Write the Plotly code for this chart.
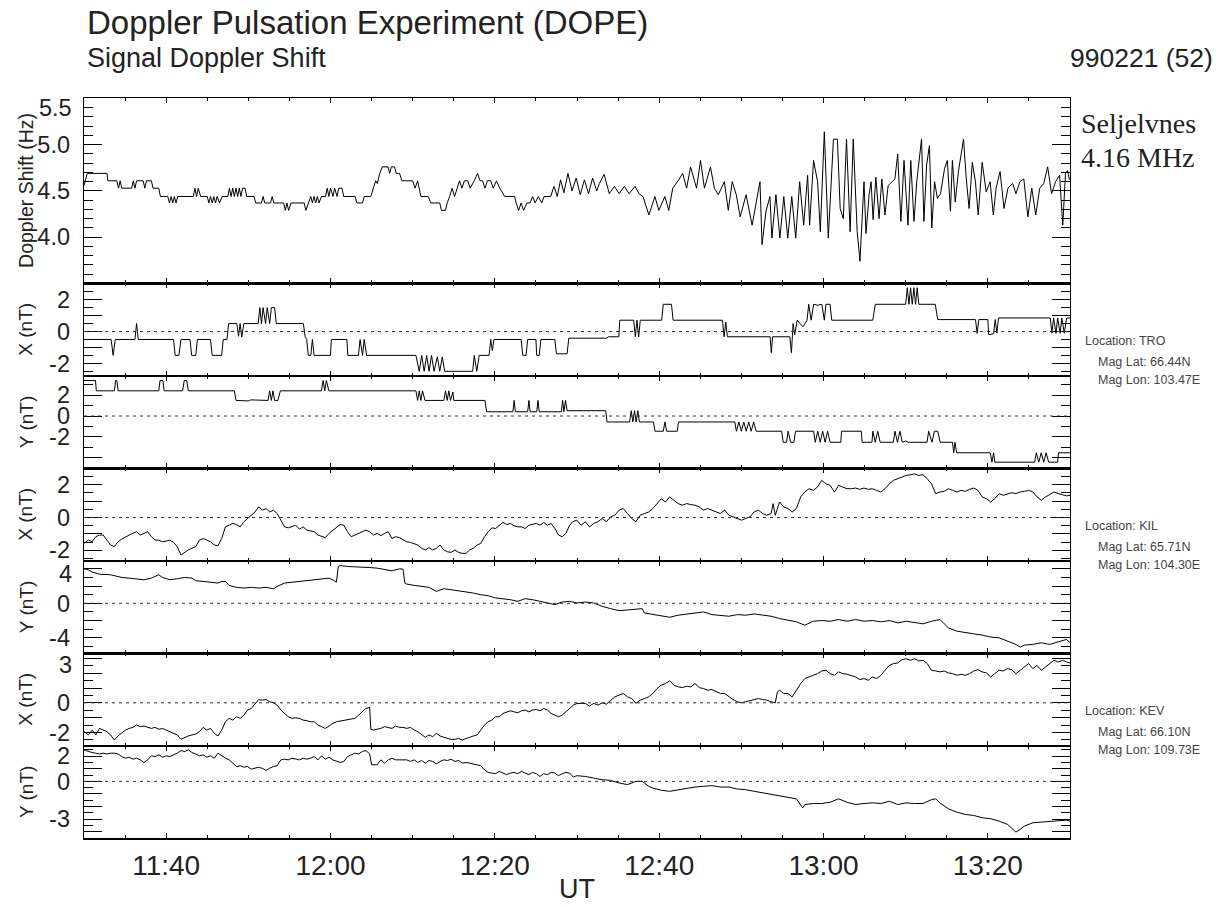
import plotly.graph_objects as go
import pandas as pd

# ---------------- data (minutes after 11:30 UT, 21 Feb 1999) ----------------
START = "1999-02-21 11:30"
END = "1999-02-21 13:30"

DOP_T = [0, 0.4, 2.8, 2.9, 4.0, 4.2, 4.4, 4.6, 5.8, 6.0, 6.2, 6.4, 7.2, 7.4, 7.6, 8.2, 8.4, 9.1, 9.3, 10.2,
         10.4, 10.6, 10.8, 11.0, 11.2, 11.4, 13.3, 13.5, 13.7, 13.9, 14.2, 15.0, 15.2, 15.4, 15.6, 15.8, 16.0, 16.2, 16.5, 16.8,
         17.5, 17.7, 17.9, 18.1, 18.3, 18.5, 18.7, 18.9, 19.1, 19.3, 19.6, 19.8, 20.7, 20.9, 21.6, 21.8, 22.0, 22.7, 22.9, 23.1,
         24.3, 24.5, 24.7, 24.9, 25.2, 26.8, 27.0, 27.3, 27.6, 27.8, 28.0, 28.2, 28.4, 28.6, 28.9, 29.4, 29.6, 29.8, 30.0, 30.3,
         30.5, 30.8, 31.0, 31.4, 31.6, 33.0, 33.2, 33.9, 34.1, 34.9, 35.2, 35.5, 35.7, 36.0, 36.3, 37.0, 37.2, 37.4, 37.8, 38.0,
         38.4, 38.7, 40.0, 40.3, 40.6, 40.8, 41.0, 41.9, 42.2, 43.3, 43.5, 44.0, 44.2, 44.5, 44.8, 45.1, 45.4, 45.7, 46.0, 46.3,
         46.7, 47.0, 47.5, 47.9, 48.2, 48.5, 48.8, 49.1, 49.5, 49.8, 50.2, 50.6, 51.2, 52.4, 52.6, 52.9, 53.2, 53.5, 53.9, 54.3,
         54.6, 54.9, 55.3, 55.7, 56.0, 56.8, 57.2, 57.6, 58.0, 58.4, 58.9, 59.4, 59.9, 60.4, 60.9, 61.4, 61.9, 62.4,
         62.72, 63.30, 63.93, 64.55, 65.13, 65.76, 66.34, 67.06, 67.54, 68.03, 68.75, 69.48, 69.96, 70.69, 71.17, 71.65, 72.38, 72.86,
         73.34, 73.82, 74.55, 75.03, 75.51, 76.24, 76.72, 77.20, 77.93, 78.41, 78.89, 79.38, 79.86, 80.58, 81.31, 81.79, 82.27, 82.52,
         83.0, 83.48, 83.72, 84.21, 84.69, 85.17, 85.65, 86.14, 86.62, 87.10, 87.59, 88.07, 88.31, 88.79, 89.28, 89.61, 90.10, 90.58,
         91.21, 91.69, 92.03, 92.41, 92.80, 93.24, 93.62, 94.10, 94.44, 94.93, 95.17, 95.55, 95.79, 96.04, 96.37, 96.76, 97.10, 97.48,
         97.87, 98.35, 98.69, 99.03, 99.42, 99.80, 100.28, 100.62, 101.01, 101.35, 101.59, 101.93, 102.22, 102.55, 102.89, 103.18,
         103.52, 103.86, 104.24, 104.73, 105.07, 105.45, 105.69, 106.03, 106.42, 106.76, 107.04, 107.38, 107.72, 108.11, 108.49,
         108.83, 109.31, 109.80, 110.28, 110.67, 111.0, 111.49, 111.97, 112.45, 113.03, 113.42, 113.90, 114.38, 114.87, 115.35,
         115.83, 116.32, 116.80, 117.28, 117.76, 118.25, 118.73, 119.12, 119.45, 119.70, 119.94]
DOP_V = [4.56, 4.69, 4.69, 4.61, 4.61, 4.53, 4.61, 4.53, 4.53, 4.61, 4.53, 4.61, 4.61, 4.53, 4.61, 4.61, 4.53, 4.53, 4.44, 4.44,
         4.37, 4.44, 4.37, 4.44, 4.37, 4.44, 4.44, 4.53, 4.44, 4.53, 4.44, 4.44, 4.37, 4.44, 4.37, 4.44, 4.37, 4.44, 4.37, 4.44,
         4.44, 4.53, 4.44, 4.53, 4.44, 4.53, 4.44, 4.53, 4.44, 4.53, 4.53, 4.44, 4.44, 4.37, 4.37, 4.44, 4.37, 4.37, 4.44, 4.37,
         4.37, 4.29, 4.37, 4.29, 4.37, 4.37, 4.29, 4.37, 4.44, 4.37, 4.44, 4.37, 4.44, 4.37, 4.44, 4.44, 4.53, 4.44, 4.53, 4.44,
         4.53, 4.44, 4.53, 4.53, 4.44, 4.44, 4.37, 4.37, 4.44, 4.44, 4.53, 4.61, 4.58, 4.69, 4.76, 4.76, 4.69, 4.76, 4.76, 4.69,
         4.69, 4.61, 4.61, 4.53, 4.61, 4.53, 4.44, 4.44, 4.37, 4.37, 4.29, 4.29, 4.37, 4.44, 4.53, 4.44, 4.53, 4.61, 4.53, 4.61,
         4.61, 4.53, 4.61, 4.69, 4.61, 4.61, 4.53, 4.61, 4.61, 4.53, 4.61, 4.53, 4.44, 4.44, 4.37, 4.29, 4.37, 4.29, 4.37, 4.37,
         4.44, 4.37, 4.44, 4.37, 4.44, 4.44, 4.55, 4.44, 4.62, 4.48, 4.69, 4.50, 4.64, 4.46, 4.62, 4.47, 4.64, 4.50,
         4.58, 4.68, 4.47, 4.55, 4.47, 4.55, 4.47, 4.55, 4.47, 4.44, 4.24, 4.44, 4.29, 4.44, 4.29, 4.53, 4.62, 4.69,
         4.53, 4.76, 4.53, 4.83, 4.53, 4.76, 4.53, 4.46, 4.60, 4.29, 4.60, 4.46, 4.22, 4.46, 4.13, 4.37, 4.60, 3.92,
         4.28, 4.44, 3.99, 4.46, 3.99, 4.44, 3.99, 4.44, 3.99, 4.60, 4.13, 4.67, 4.13, 4.83, 4.60, 4.06, 5.14, 3.99,
         5.06, 5.06, 4.31, 4.20, 5.06, 4.06, 5.06, 4.06, 3.74, 4.60, 4.04, 4.46, 4.60, 4.19, 4.65, 4.20, 4.63, 4.24,
         4.56, 4.60, 4.63, 4.90, 4.17, 4.83, 4.13, 4.83, 4.17, 4.60, 4.81, 5.06, 4.17, 4.78, 4.99, 4.10,
         4.60, 4.42, 4.47, 4.74, 4.83, 4.28, 4.83, 4.38, 4.71, 4.89, 5.06, 4.63, 4.31, 4.81, 4.60,
         4.24, 4.81, 4.49, 4.60, 4.24, 4.53, 4.71, 4.31, 4.53, 4.58, 4.47, 4.60, 4.63, 4.22, 4.53,
         4.24, 4.53, 4.58, 4.76, 4.47, 4.60, 4.67, 4.13, 4.69, 4.72, 4.62]

TROX_T = [0, 3.3, 3.55, 3.8, 6.2, 6.4, 6.6, 10.9, 11.1, 11.55, 11.8, 12.9, 13.1, 13.6, 13.8, 15.4, 15.6, 16.75, 16.95, 17.4,
          17.6, 18.6, 18.8, 19.0, 19.2, 19.45, 21.2, 21.4, 21.6, 21.8, 22.1, 22.3, 22.6, 22.8, 23.2, 23.4, 26.7, 26.9, 27.1, 27.3,
          27.6, 27.8, 28.0, 30.0, 30.1, 32.0, 32.1, 33.4, 33.6, 33.9, 34.1, 34.4, 40.4, 40.8, 41.1, 41.4, 41.7, 42.0, 42.3, 42.6,
          43.0, 43.3, 43.6, 43.9, 47.3, 47.5, 47.8, 48.1, 49.3, 49.5, 49.7, 49.9, 53.2, 53.4, 53.8, 54.0, 55.0, 55.1, 55.4, 55.6,
          57.3, 57.5, 58.8, 59.0, 63.6, 63.8, 65.1, 65.2, 66.9, 67.1, 67.3, 67.5, 67.7, 70.3, 70.5, 71.5, 71.7, 77.7, 77.9, 78.1,
          78.3, 83.5, 83.65, 83.8, 85.9, 86.1, 86.3, 86.5, 86.8, 87.5, 88.0, 88.2, 88.5, 88.8, 89.3, 89.8, 90.1, 90.3, 90.8, 91.0,
          96.0, 96.3, 100.0, 100.2, 100.4, 100.6, 100.8, 101.0, 101.2, 101.4, 101.6, 103.6, 103.9, 108.5, 108.7, 108.9, 110.0, 110.1,
          110.7, 110.9, 111.1, 111.3, 117.6, 117.8, 118.0, 118.3, 118.5, 118.8, 119.0, 119.3, 119.6, 120.0]
TROX_V = [-0.5, -0.5, -1.5, -0.5, -0.5, 0.5, -0.5, -0.5, -1.5, -1.5, -0.5, -0.5, -1.5, -1.5, -0.5, -0.5, -1.5, -1.5, -0.5, -0.5,
          0.5, 0.5, -0.3, 0.5, -0.35, 0.5, 0.5, 1.5, 0.5, 1.5, 0.5, 1.5, 0.5, 1.5, 1.5, 0.5, 0.5, -0.3, -0.5, -1.5,
          -1.5, -0.5, -1.5, -1.5, -0.5, -0.5, -1.5, -1.5, -0.5, -1.5, -0.5, -1.5, -1.5, -2.5, -1.5, -2.5, -1.5, -2.5, -1.5, -2.5,
          -1.6, -2.5, -1.6, -2.5, -2.5, -1.5, -2.5, -1.5, -1.5, -0.5, -1.2, -0.5, -0.5, -1.5, -1.5, -0.5, -0.5, -1.5, -1.5, -0.5,
          -0.5, -1.4, -1.4, -0.42, -0.42, -0.33, -0.33, 0.71, 0.71, -0.33, 0.71, -0.35, 0.71, 0.71, 1.71, 1.71, 0.71, 0.71, -0.33, 0.6,
          -0.33, -0.33, -1.33, -0.33, -0.33, -1.33, 0.5, -0.2, 0.71, 0.3, 0.71, 1.71, 0.71, 1.71, 1.65, 1.71, 0.71, 1.71, 1.71, 0.71,
          0.71, 1.71, 1.71, 2.75, 1.71, 2.75, 1.71, 2.75, 1.71, 2.75, 1.71, 1.71, 0.75, 0.75, -0.12, 0.75, 0.75, -0.2,
          -0.15, 0.75, -0.1, 0.85, 0.85, -0.1, 0.85, -0.12, 0.85, -0.12, 0.85, -0.1, 0.85, 0.85]

TROY_T = [0, 1.4, 1.5, 3.7, 3.85, 4.0, 4.15, 9.1, 9.25, 9.6, 9.75, 12.0, 12.2, 12.5, 12.7, 18.3, 18.5, 20.0, 20.3, 22.4,
          22.6, 22.8, 23.0, 23.2, 23.6, 23.9, 28.9, 29.1, 29.3, 29.5, 29.8, 40.4, 40.6, 40.8, 41.0, 41.2, 41.5, 43.8, 44.0, 44.2,
          44.4, 44.6, 44.9, 45.0, 48.8, 49.0, 52.2, 52.35, 52.5, 54.0, 54.15, 54.3, 55.1, 55.25, 55.4, 58.1, 58.25, 58.4, 58.6, 58.8,
          63.5, 63.65, 66.4, 66.6, 66.8, 67.0, 67.2, 67.4, 67.6, 69.3, 69.5, 70.5, 70.7, 70.9, 72.2, 72.35, 79.2, 79.4, 79.7, 80.0,
          80.3, 80.6, 80.9, 81.2, 81.5, 81.8, 84.9, 85.1, 85.5, 85.7, 86.0, 86.4, 86.6, 88.8, 89.0, 89.3, 89.6, 89.9, 90.2, 90.5,
          90.8, 92.1, 92.2, 94.6, 94.7, 95.9, 96.0, 96.3, 96.6, 96.9, 98.5, 98.7, 99.0, 99.3, 99.6, 100.0, 100.3, 102.6, 102.8, 103.2,
          103.5, 103.9, 104.2, 105.7, 105.85, 106.0, 106.2, 110.3, 110.5, 110.7, 110.85, 115.7, 115.9, 116.2, 116.5, 116.8, 117.1, 117.4,
          118.5, 118.6, 120.0]
TROY_V = [3.41, 3.41, 2.42, 2.42, 3.41, 3.41, 2.42, 2.42, 3.41, 3.41, 2.42, 2.42, 3.41, 3.41, 2.42, 2.42, 1.5, 1.45, 1.55, 1.5,
          2.42, 1.5, 2.42, 1.5, 1.5, 2.42, 2.42, 3.41, 2.42, 3.41, 2.42, 2.42, 1.5, 2.42, 1.5, 2.42, 1.5, 1.5, 2.42, 1.5,
          2.42, 1.5, 2.3, 1.5, 1.5, 0.41, 0.41, 1.5, 0.41, 0.41, 1.5, 0.41, 0.41, 1.5, 0.41, 0.41, 1.5, 0.41, 1.5, 0.51,
          0.51, -0.57, -0.57, 0.51, -0.57, 0.51, -0.57, 0.51, -0.57, -0.57, -1.46, -1.46, -0.57, -1.46, -1.46, -0.57, -0.57, -1.46, -0.57, -1.46,
          -0.57, -1.46, -0.57, -1.46, -0.57, -1.46, -1.46, -2.52, -2.52, -1.46, -2.52, -2.52, -1.46, -1.46, -2.52, -1.46, -2.52, -1.46, -2.52, -1.46,
          -2.52, -2.52, -1.46, -1.46, -2.52, -2.52, -1.46, -2.52, -1.46, -2.52, -2.52, -1.46, -2.52, -1.46, -2.52, -2.4, -2.52, -2.52, -1.46, -2.52,
          -1.46, -1.46, -2.52, -2.52, -3.53, -2.52, -3.53, -3.53, -4.43, -3.53, -4.43, -4.43, -3.53, -4.43, -3.53, -4.43, -3.53, -4.43,
          -4.43, -3.53, -3.53]

KILX_T = [0, 0.54, 0.99, 1.44, 1.89, 2.34, 2.79, 3.24, 3.69, 4.14, 4.59, 5.05, 5.5, 5.95, 6.4, 6.85, 7.3, 7.75, 8.2, 8.65,
          9.1, 9.55, 10.0, 10.45, 10.9, 11.35, 11.8, 12.25, 12.7, 13.15, 13.6, 14.05, 14.5, 14.95, 15.4, 15.86, 16.31, 16.76, 17.21, 17.66,
          18.11, 18.56, 19.01, 19.46, 19.91, 20.36, 20.81, 21.26, 21.71, 22.16, 22.61, 23.06, 23.51, 23.96, 24.41, 24.86, 25.32, 25.77, 26.22, 26.67,
          27.12, 27.57, 28.02, 28.47, 28.92, 29.37, 29.82, 30.27, 30.72, 31.17, 31.62, 32.07, 32.52, 32.97, 33.42, 33.87, 34.32, 34.77, 35.23, 35.68,
          36.13, 36.58, 37.03, 37.48, 37.93, 38.38, 38.83, 39.28, 39.73, 40.18, 40.63, 41.08, 41.53, 41.98, 42.43, 42.88, 43.33, 43.78, 44.23, 44.68,
          45.14, 45.59, 46.04, 46.49, 46.94, 47.39, 47.84, 48.29, 48.74, 49.19, 49.64, 50.09, 50.54, 50.99, 51.44, 51.89, 52.34, 52.79, 53.24, 53.69,
          54.14, 54.59, 55.05, 55.5, 55.95, 56.4, 56.85, 57.3, 57.75, 58.2, 58.65, 59.1, 59.47, 59.98, 60.49, 61.01, 61.52, 62.03, 62.55, 63.06,
          63.58, 64.09, 64.60, 65.12, 65.63, 66.15, 66.66, 67.17, 67.69, 68.20, 68.72, 69.23, 69.74, 70.26, 70.77, 71.28, 71.80, 72.31, 72.83, 73.34,
          73.85, 74.37, 74.88, 75.40, 75.91, 76.42, 76.94, 77.45, 77.97, 78.48, 78.99, 79.51, 80.02, 80.53, 81.05, 81.56, 82.08, 82.59, 83.10, 83.62,
          83.87, 84.13, 84.65, 85.16, 85.67, 86.19, 86.70, 87.22, 87.73, 88.24, 88.76, 89.27, 89.78, 90.30, 90.81, 91.33, 91.84, 92.35, 92.87, 93.38,
          93.90, 94.41, 94.92, 95.44, 95.95, 96.46, 96.98, 97.49, 98.01, 98.52, 99.03, 99.55, 100.06, 100.58, 101.09, 101.60, 102.12, 102.63, 103.14, 103.66,
          104.17, 104.69, 105.20, 105.71, 106.23, 106.74, 107.26, 107.77, 108.28, 108.80, 109.31, 109.82, 110.34, 110.85, 111.37, 111.88, 112.39, 112.91, 113.42, 113.94,
          114.45, 114.96, 115.48, 115.99, 116.51, 117.02, 117.53, 118.05, 118.56, 119.08, 119.59, 120.0]
KILX_V = [-1.58, -1.38, -1.48, -1.17, -1.07, -1.07, -1.38, -1.68, -1.78, -1.48, -1.32, -1.17, -1.07, -0.97, -0.87, -1.07, -0.97, -0.87, -1.17, -1.38,
          -1.38, -1.48, -1.44, -1.38, -1.52, -1.78, -2.29, -2.13, -1.98, -1.88, -1.78, -1.38, -1.28, -1.38, -1.48, -1.68, -1.72, -1.28, -0.57, -0.47,
          -0.36, -0.43, -0.57, -0.26, -0.06, 0.14, 0.34, 0.65, 0.45, 0.55, 0.34, 0.45, 0.24, -0.16, -0.57, -0.63, -0.57, -0.47, -0.71, -0.57,
          -0.77, -0.83, -0.87, -1.07, -1.17, -1.23, -0.97, -0.77, -0.57, -0.43, -0.47, -0.87, -1.17, -1.07, -0.97, -0.87, -0.77, -0.87, -1.07, -0.97,
          -1.11, -0.97, -0.87, -1.28, -1.17, -1.23, -1.38, -1.48, -1.52, -1.58, -1.68, -1.88, -1.98, -1.84, -1.98, -1.88, -1.68, -1.98, -2.09, -2.13,
          -1.98, -2.13, -2.19, -2.19, -1.98, -1.88, -1.68, -1.58, -1.17, -0.87, -0.63, -0.67, -0.47, -0.30, -0.43, -0.36, -0.51, -0.57, -0.57, -0.67,
          -0.47, -0.43, -0.36, -0.47, -0.30, -0.47, -0.36, -0.67, -1.07, -1.17, -0.97, -0.47, -0.26, -0.16, -0.47, -0.26, -0.57, -0.36, -0.26, -0.06,
          -0.26, 0.04, 0.14, 0.45, 0.55, 0.24, -0.06, -0.26, 0.14, 0.24, 0.34, 0.55, 0.85, 1.15, 0.95, 1.26, 1.05, 0.85, 0.75, 0.85,
          0.79, 0.75, 0.65, 0.45, 0.55, 0.45, 0.34, 0.24, 0.45, 0.14, 0.04, -0.06, -0.16, -0.06, 0.04, 0.34, 0.45, 0.24, 0.14, 0.24,
          0.85, 0.14, 0.95, 0.65, 0.55, 0.34, 0.55, 1.26, 1.56, 1.76, 1.66, 1.86, 2.27, 2.06, 1.96, 1.56, 1.96, 1.86, 1.76, 1.76,
          1.80, 1.72, 1.80, 1.72, 1.76, 1.66, 1.56, 1.76, 2.06, 2.27, 2.37, 2.47, 2.57, 2.61, 2.67, 2.57, 2.61, 2.37, 2.06, 1.46,
          1.56, 1.60, 1.76, 1.66, 1.56, 1.66, 1.60, 1.72, 1.80, 1.66, 1.26, 1.15, 0.95, 1.15, 1.46, 1.36, 1.46, 1.52, 1.46, 1.56,
          1.60, 1.66, 1.56, 1.26, 1.05, 1.26, 1.40, 1.56, 1.46, 1.40, 1.32, 1.36]

KILY_T = [0, 0.54, 0.99, 1.89, 3.24, 4.59, 5.5, 6.4, 7.3, 8.2, 9.1, 9.55, 10.45, 11.35, 12.25, 13.15, 13.6, 14.5, 15.4, 16.31,
          16.76, 17.21, 17.66, 18.56, 19.46, 20.36, 21.26, 22.16, 23.06, 23.51, 24.41, 25.32, 26.22, 27.12, 28.02, 28.92, 29.82, 30.27, 30.72, 30.95,
          31.17, 32.07, 32.97, 33.87, 34.77, 35.68, 36.58, 37.48, 38.38, 38.83, 39.05, 39.28, 40.18, 41.08, 41.98, 42.88, 43.78, 44.68, 45.59, 46.49,
          47.39, 48.29, 49.19, 50.09, 50.99, 51.89, 52.79, 53.69, 54.59, 55.5, 56.4, 57.3, 58.2, 59.1, 60.0, 61.01, 62.03, 63.06, 64.09, 65.12,
          66.15, 67.17, 67.94, 68.2, 69.23, 70.26, 71.28, 72.31, 73.34, 74.37, 75.4, 76.42, 77.45, 78.48, 79.51, 80.53, 81.56, 82.59, 83.62, 84.65,
          85.67, 86.7, 87.73, 88.76, 89.78, 90.81, 91.84, 92.87, 93.9, 94.92, 95.95, 96.98, 98.01, 99.03, 100.06, 101.09, 102.12, 103.14, 104.17, 104.69,
          105.2, 106.23, 107.26, 108.28, 109.31, 110.34, 111.37, 112.39, 113.42, 113.94, 114.45, 115.48, 116.51, 117.53, 118.56, 119.59, 120.0]
KILY_V = [4.0, 3.88, 3.62, 3.38, 3.31, 3.0, 2.92, 2.85, 2.73, 2.92, 3.31, 3.0, 2.73, 2.85, 3.0, 2.92, 2.62, 2.54, 2.46, 2.35,
          2.54, 2.54, 2.08, 1.85, 1.77, 1.85, 1.77, 1.85, 1.69, 1.96, 2.35, 2.46, 2.54, 2.62, 2.73, 2.81, 2.92, 2.73, 2.46, 4.27,
          4.38, 4.27, 4.23, 4.27, 4.15, 4.08, 3.88, 3.77, 4.0, 3.96, 2.35, 2.23, 2.08, 1.96, 1.85, 1.38, 1.69, 1.58, 1.46, 1.38,
          1.19, 1.0, 0.88, 0.62, 0.54, 0.42, 0.23, 0.54, 0.42, 0.23, 0.04, -0.15, 0.15, 0.23, 0.04, 0.15, 0.04, -0.35, -0.62, -0.85,
          -0.77, -0.73, -0.62, -1.12, -1.31, -1.5, -1.62, -1.38, -1.23, -1.12, -1.0, -1.31, -1.38, -1.5, -1.31, -1.38, -1.23, -1.38, -1.5, -1.77,
          -2.0, -2.15, -2.54, -2.08, -2.0, -2.08, -1.88, -2.08, -1.88, -2.08, -2.0, -2.15, -2.0, -2.27, -2.08, -2.27, -2.38, -2.08, -1.88, -2.38,
          -2.85, -3.23, -3.42, -3.54, -3.69, -3.92, -4.0, -4.38, -4.77, -5.08, -4.85, -4.77, -4.58, -4.77, -4.46, -4.19, -4.58]

KEVX_T = [0, 0.54, 0.99, 1.44, 1.89, 2.34, 2.79, 3.24, 3.69, 4.14, 4.59, 5.05, 5.5, 5.95, 6.4, 6.85, 7.3, 7.75, 8.2, 8.65,
          9.1, 9.55, 10.0, 10.45, 10.9, 11.35, 11.8, 12.25, 12.7, 13.15, 13.6, 14.05, 14.5, 14.95, 15.4, 15.86, 16.31, 16.76, 17.21, 17.66,
          18.11, 18.56, 19.01, 19.46, 19.91, 20.36, 20.81, 21.26, 21.71, 22.16, 22.61, 23.06, 23.51, 23.96, 24.41, 24.86, 25.32, 25.77, 26.22, 26.67,
          27.12, 27.57, 28.02, 28.47, 28.92, 29.37, 29.82, 30.27, 30.72, 31.17, 31.62, 32.07, 32.52, 32.97, 33.42, 33.87, 34.32, 34.77, 34.91, 35.23,
          35.68, 36.13, 36.58, 37.03, 37.48, 37.93, 38.38, 38.83, 39.28, 39.73, 40.18, 40.63, 41.08, 41.53, 41.98, 42.43, 42.88, 43.33, 43.78, 44.23,
          44.68, 45.14, 45.59, 46.04, 46.49, 46.94, 47.39, 47.84, 48.29, 48.74, 49.19, 49.64, 50.09, 50.54, 50.99, 51.44, 51.89, 52.34, 52.79, 53.24,
          53.69, 54.14, 54.59, 55.05, 55.5, 55.95, 56.4, 56.85, 57.3, 57.75, 58.2, 58.65, 59.1, 59.55, 60.0, 61.01, 61.52, 62.03, 62.55, 63.06,
          63.58, 64.09, 64.60, 65.12, 65.63, 66.15, 66.66, 67.17, 67.69, 68.20, 68.72, 69.23, 69.74, 70.26, 70.77, 71.28, 71.80, 72.31, 72.83, 73.34,
          73.85, 74.37, 74.88, 75.40, 75.91, 76.42, 76.94, 77.45, 77.97, 78.48, 78.99, 79.51, 80.02, 80.53, 81.05, 81.56, 82.08, 82.59, 83.10, 83.62,
          84.13, 84.39, 84.65, 85.16, 85.67, 86.19, 86.70, 87.22, 87.73, 88.24, 88.76, 89.27, 89.78, 90.30, 90.81, 91.33, 91.84, 92.35, 92.87, 93.38,
          93.90, 94.41, 94.92, 95.44, 95.95, 96.46, 96.98, 97.49, 98.01, 98.52, 99.03, 99.55, 100.06, 100.58, 101.09, 101.60, 102.12, 102.63, 103.14, 103.66,
          104.17, 104.69, 105.20, 105.71, 106.23, 106.74, 107.26, 107.77, 108.28, 108.80, 109.31, 109.82, 110.34, 110.85, 111.37, 111.88, 112.39, 112.91, 113.42, 113.94,
          114.45, 114.96, 115.48, 115.99, 116.51, 117.02, 117.53, 118.05, 118.56, 119.08, 119.59, 120.0]
KEVX_V = [-1.95, -2.17, -1.84, -2.17, -1.73, -1.84, -1.95, -2.17, -2.51, -2.24, -2.06, -1.84, -1.73, -1.66, -1.5, -1.61, -1.57, -1.66, -1.73, -1.66,
          -1.79, -1.73, -1.84, -1.95, -2.06, -2.17, -2.47, -2.33, -2.24, -2.17, -2.11, -1.95, -1.66, -1.84, -1.73, -2.06, -2.24, -1.84, -1.28, -1.05,
          -1.17, -0.94, -1.05, -0.83, -0.49, -0.38, -0.04, 0.22, 0.18, 0.22, 0.07, 0.0, -0.16, -0.49, -0.72, -0.94, -1.05, -1.01, -1.05, -1.17,
          -1.21, -1.28, -1.28, -1.5, -1.61, -1.73, -1.57, -1.39, -1.28, -1.23, -1.21, -1.17, -1.12, -1.05, -0.83, -0.61, -0.38, -0.31, -1.79, -1.84,
          -1.79, -1.73, -1.61, -1.68, -1.73, -1.57, -1.66, -1.66, -1.73, -1.66, -1.84, -1.95, -2.17, -2.33, -2.17, -2.29, -2.06, -2.24, -2.33, -2.4,
          -2.47, -2.47, -2.4, -2.51, -2.4, -2.33, -2.24, -2.17, -1.84, -1.5, -1.28, -1.17, -0.94, -0.94, -0.72, -0.61, -0.54, -0.61, -0.67, -0.54,
          -0.49, -0.61, -0.49, -0.45, -0.54, -0.38, -0.49, -0.72, -0.83, -0.94, -0.83, -0.61, -0.38, -0.16, -0.04, -0.04, -0.22, -0.04, -0.16, 0.0,
          -0.09, 0.18, 0.40, 0.52, 0.63, 0.40, 0.29, -0.04, 0.18, 0.29, 0.40, 0.63, 0.96, 1.19, 1.30, 1.48, 1.19, 1.08, 1.03, 1.12,
          1.08, 1.30, 1.03, 0.96, 0.85, 0.90, 0.74, 0.63, 0.63, 0.40, 0.22, 0.07, 0.0, 0.07, 0.13, 0.18, 0.29, 0.22, 0.18, 0.07,
          0.0, 0.74, 0.85, 0.63, 0.63, 0.40, 0.85, 1.30, 1.64, 1.75, 1.86, 1.97, 2.15, 2.20, 1.97, 1.86, 2.09, 1.97, 1.93, 1.86,
          1.75, 1.57, 1.64, 1.52, 1.75, 1.64, 1.86, 2.20, 2.53, 2.65, 2.69, 2.91, 2.98, 2.87, 2.98, 2.83, 2.87, 2.65, 2.20, 2.15,
          2.09, 2.15, 2.02, 1.97, 1.86, 1.93, 1.86, 1.97, 2.15, 2.24, 2.09, 2.02, 1.75, 1.97, 2.20, 2.15, 2.31, 2.24, 1.97, 2.20,
          2.42, 2.65, 2.31, 2.53, 2.20, 2.42, 2.65, 2.87, 2.76, 2.87, 2.76, 2.69]

KEVY_T = [0, 0.54, 0.99, 1.44, 1.89, 2.34, 2.79, 3.24, 3.69, 4.14, 4.59, 5.05, 5.5, 5.95, 6.4, 6.85, 7.3, 7.75, 8.2, 8.65,
          9.1, 9.55, 10.0, 10.45, 10.9, 11.35, 11.8, 12.25, 12.7, 13.15, 13.6, 14.05, 14.5, 14.95, 15.4, 15.86, 16.31, 16.76, 17.21, 17.66,
          18.11, 18.56, 19.01, 19.46, 19.91, 20.36, 20.81, 21.26, 21.71, 22.16, 22.61, 23.06, 23.51, 23.96, 24.41, 24.86, 25.32, 25.77, 26.22, 26.67,
          27.12, 27.57, 28.02, 28.47, 28.92, 29.37, 29.82, 30.27, 30.72, 31.17, 31.62, 32.07, 32.52, 32.97, 33.42, 33.87, 34.32, 34.77, 35.0, 35.68,
          36.13, 36.58, 37.03, 37.48, 37.93, 38.38, 38.83, 39.28, 39.73, 40.18, 40.63, 41.08, 41.53, 41.98, 42.43, 42.88, 43.33, 43.78, 44.23, 44.68,
          45.14, 45.59, 46.04, 46.49, 46.94, 47.39, 47.84, 48.29, 48.74, 49.19, 49.64, 50.09, 50.54, 50.99, 51.44, 51.89, 52.34, 52.79, 53.24, 53.69,
          54.14, 54.59, 55.05, 55.5, 55.95, 56.4, 56.85, 57.3, 57.75, 58.2, 58.65, 59.1, 59.55, 60.0, 61.01, 62.03, 63.06, 64.09, 65.12, 66.15,
          67.17, 67.94, 68.72, 69.23, 70.26, 71.28, 72.31, 73.34, 74.37, 75.40, 76.42, 77.45, 78.48, 79.51, 80.53, 81.56, 82.59, 83.62, 84.65, 85.67,
          86.70, 87.47, 87.73, 88.76, 89.78, 90.81, 91.84, 92.87, 93.90, 94.92, 95.95, 96.98, 98.01, 99.03, 100.06, 101.09, 102.12, 103.14, 103.66, 104.17,
          105.20, 106.23, 107.26, 108.28, 109.31, 110.34, 111.37, 112.39, 113.42, 113.94, 114.45, 115.48, 116.51, 117.53, 118.56, 119.59, 120.0]
KEVY_V = [2.5, 2.37, 2.29, 2.24, 2.18, 2.24, 2.18, 2.24, 2.24, 2.18, 1.97, 1.84, 1.92, 1.76, 1.84, 1.71, 1.5, 1.71, 2.03, 1.97,
          2.11, 1.92, 2.03, 1.97, 2.11, 2.24, 2.45, 2.37, 2.5, 2.29, 2.18, 2.03, 2.11, 1.92, 2.03, 1.84, 2.24, 2.03, 1.84, 1.71,
          1.45, 1.18, 1.24, 1.13, 1.18, 0.97, 1.05, 1.13, 1.03, 0.87, 1.05, 1.18, 1.24, 1.71, 1.76, 1.71, 1.84, 1.76, 1.71, 1.84,
          1.76, 1.84, 1.97, 1.71, 2.03, 1.76, 1.92, 1.71, 1.58, 1.5, 1.58, 1.97, 2.11, 2.24, 2.18, 2.37, 2.45, 2.18, 1.32, 1.32,
          1.71, 1.45, 1.71, 1.84, 1.71, 1.71, 1.66, 1.71, 1.58, 1.71, 1.5, 1.66, 1.45, 1.66, 1.58, 1.39, 1.58, 1.71, 1.66, 1.76,
          1.58, 1.66, 1.45, 1.5, 1.45, 1.39, 1.32, 1.24, 0.92, 0.71, 0.66, 0.61, 0.79, 0.66, 0.53, 0.66, 0.71, 0.61, 0.79, 0.66,
          0.53, 0.71, 0.61, 0.39, 0.61, 0.53, 0.71, 0.66, 0.45, 0.61, 0.71, 0.66, 0.34, 0.45, 0.39, 0.26, 0.13, 0.08, -0.13, -0.26,
          0.0, 0.0, -0.39, -0.53, -0.71, -0.79, -0.66, -0.53, -0.45, -0.39, -0.34, -0.45, -0.45, -0.61, -0.66, -0.79, -0.92, -1.05, -1.18, -1.32,
          -1.39, -2.11, -1.84, -1.76, -1.76, -1.66, -1.39, -1.66, -1.84, -1.76, -1.71, -1.76, -1.58, -1.84, -1.71, -1.76, -1.76, -1.45, -1.39, -1.71,
          -2.18, -2.45, -2.63, -2.71, -2.89, -2.97, -3.16, -3.42, -4.03, -3.82, -3.55, -3.29, -3.24, -3.24, -3.16, -3.08, -3.16]

# y-axis set-up per panel: range, tick values, tick labels, minor spacing
Y_RANGES = [[3.5, 5.5], [-2.79, 3.02], [-5.03, 3.85], [-2.65, 3.0], [-5.81, 4.92], [-2.91, 3.34], [-4.53, 2.82]]
Y_TICKVALS = [[4.0, 4.5, 5.0, 5.5], [-2, -1, 0, 1, 2], [-4, -2, 0, 2], [-2, -1, 0, 1, 2],
              [-4, -2, 0, 2, 4], [-2, -1, 0, 1, 2, 3], [-4, -3, -2, -1, 0, 1, 2]]
Y_TICKTEXT = [["4.0", "4.5", "5.0", ""], ["-2", "", "0", "", "2"], ["", "-2", "0", "2"], ["-2", "", "0", "", "2"],
              ["-4", "", "0", "", ""], ["-2", "", "0", "", "", ""], ["", "-3", "", "", "0", "", "2"]]
# top-of-panel labels, which the original drops a little below their tick
Y_TOP_LABELS = [(0, 5.5, "5.5", -10), (4, 4, "4", -5), (5, 3, "3", -7)]
Y_MINOR = [0.1, 0.5, 1, 0.5, 1, 0.5, 0.5]
Y_TITLES = ["Doppler Shift (Hz)", "X (nT)", "Y (nT)", "X (nT)", "Y (nT)", "X (nT)", "Y (nT)"]

STATIONS = [("TRO", "66.44N", "103.47E"), ("KIL", "65.71N", "104.30E"), ("KEV", "66.10N", "109.73E")]

SERIES = [(DOP_T, DOP_V), (TROX_T, TROX_V), (TROY_T, TROY_V), (KILX_T, KILX_V),
          (KILY_T, KILY_V), (KEVX_T, KEVX_V), (KEVY_T, KEVY_V)]

# ---------------- layout geometry (pixels) ----------------
W, H = 1222, 907
PLOT_L, PLOT_R = 84, 1070
PANEL_EDGES = [97, 283, 376, 469, 562, 655, 748, 841]


def px_x(p):
    return p / W


def px_y(p):
    return 1 - p / H


SANS = "Liberation Sans, Arial, Helvetica, sans-serif"
SERIF = "Liberation Serif, Times New Roman, serif"
TXT = "#222222"
TICK_FONT = dict(family=SANS, size=23.5, color=TXT)

base = pd.Timestamp(START)
fig = go.Figure()

layout = dict(width=W, height=H, margin=dict(l=0, r=0, t=0, b=0),
              paper_bgcolor="white", plot_bgcolor="white", showlegend=False)

shapes = []
annotations = []

for i, (tt, vv) in enumerate(SERIES):
    n = i + 1
    xs = [base + pd.Timedelta(minutes=m) for m in tt]
    fig.add_trace(go.Scatter(x=xs, y=vv, mode="lines", line=dict(color="black", width=1),
                             xaxis=f"x{n}", yaxis=f"y{n}", hoverinfo="skip"))
    top, bot = PANEL_EDGES[i], PANEL_EDGES[i + 1]
    xa = dict(domain=[px_x(PLOT_L), px_x(PLOT_R)], anchor=f"y{n}", type="date",
              range=[START, END], showline=True, linecolor="black", linewidth=1.3, mirror="ticks",
              ticks="inside", ticklen=5, tickcolor="black", tickwidth=1,
              tickmode="linear", tick0="1999-02-21 11:40", dtick=20 * 60 * 1000,
              tickformat="%H:%M", showticklabels=(i == 6),
              tickfont=dict(family=SANS, size=28, color=TXT), ticklabelstandoff=2,
              minor=dict(ticks="inside", ticklen=3, tickcolor="black", tickwidth=1,
                         tick0=START, dtick=5 * 60 * 1000, showgrid=False),
              showgrid=False, zeroline=False, fixedrange=True)
    ya = dict(domain=[px_y(bot), px_y(top)], anchor=f"x{n}", range=Y_RANGES[i],
              tickmode="array", tickvals=Y_TICKVALS[i], ticktext=Y_TICKTEXT[i],
              ticks="inside", ticklen=18, tickcolor="black", tickwidth=1,
              minor=dict(ticks="inside", ticklen=9, tickcolor="black", tickwidth=1,
                         tickmode="linear", tick0=0, dtick=Y_MINOR[i], showgrid=False),
              showline=True, linecolor="black", linewidth=1.3, mirror="ticks",
              tickfont=TICK_FONT, ticklabelstandoff=8,
              showgrid=False, zeroline=False, fixedrange=True)
    layout[f"xaxis{n}" if n > 1 else "xaxis"] = xa
    layout[f"yaxis{n}" if n > 1 else "yaxis"] = ya

    # y-axis title
    annotations.append(dict(text=Y_TITLES[i], x=px_x(26), y=px_y((top + bot) / 2), xref="paper", yref="paper",
                            textangle=-90, showarrow=False, xanchor="center", yanchor="middle",
                            font=dict(family=SANS, size=19.5 if i == 0 else 19, color=TXT)))
    if i > 0:
        shapes.append(dict(type="line", xref=f"x{n} domain", yref=f"y{n}", x0=0, x1=1, y0=0, y1=0,
                           line=dict(color="#333333", width=1, dash="3px,4px")))

for panel, val, label, shift in Y_TOP_LABELS:
    n = panel + 1
    annotations.append(dict(text=label, x=px_x(PLOT_L - 10), y=val, xref="paper", yref=f"y{n}",
                            showarrow=False, xanchor="right", yanchor="middle", yshift=shift,
                            font=TICK_FONT))

# station info
LOC_Y = [(341, 361.7, 380.5), (527, 547.7, 566.5), (713, 733.7, 752.5)]
for (name, lat, lon), (y1, y2, y3) in zip(STATIONS, LOC_Y):
    for txt, xx, yy in [(f"Location: {name}", 1083, y1), (f"Mag Lat: {lat}", 1096, y2), (f"Mag Lon: {lon}", 1096, y3)]:
        annotations.append(dict(text=txt, x=px_x(xx), y=px_y(yy), xref="paper", yref="paper", showarrow=False,
                                xanchor="left", yanchor="middle", font=dict(family=SANS, size=12.5, color="#444444")))

annotations += [
    dict(text="Doppler Pulsation Experiment (DOPE)", x=px_x(85), y=px_y(21), xref="paper", yref="paper",
         showarrow=False, xanchor="left", yanchor="middle", font=dict(family=SANS, size=33, color=TXT)),
    dict(text="Signal Doppler Shift", x=px_x(85), y=px_y(56), xref="paper", yref="paper",
         showarrow=False, xanchor="left", yanchor="middle", font=dict(family=SANS, size=27, color=TXT)),
    dict(text="990221 (52)", x=px_x(1215), y=px_y(56), xref="paper", yref="paper",
         showarrow=False, xanchor="right", yanchor="middle", font=dict(family=SANS, size=26.5, color=TXT)),
    dict(text="Seljelvnes", x=px_x(1079), y=px_y(122), xref="paper", yref="paper",
         showarrow=False, xanchor="left", yanchor="middle", font=dict(family=SERIF, size=28, color=TXT)),
    dict(text="4.16 MHz", x=px_x(1079), y=px_y(156), xref="paper", yref="paper",
         showarrow=False, xanchor="left", yanchor="middle", font=dict(family=SERIF, size=28, color=TXT)),
    dict(text="UT", x=px_x((PLOT_L + PLOT_R) / 2), y=px_y(892), xref="paper", yref="paper",
         showarrow=False, xanchor="center", yanchor="middle", font=dict(family=SANS, size=27, color=TXT)),
]

layout["shapes"] = shapes
layout["annotations"] = annotations
fig.update_layout(**layout)

# the page's default 8px body margin would shift and clip the fixed-size figure
fig.write_html("out.html", config={"displayModeBar": False, "staticPlot": True},
               post_script="document.body.style.margin='0px';document.body.style.overflow='hidden';")
